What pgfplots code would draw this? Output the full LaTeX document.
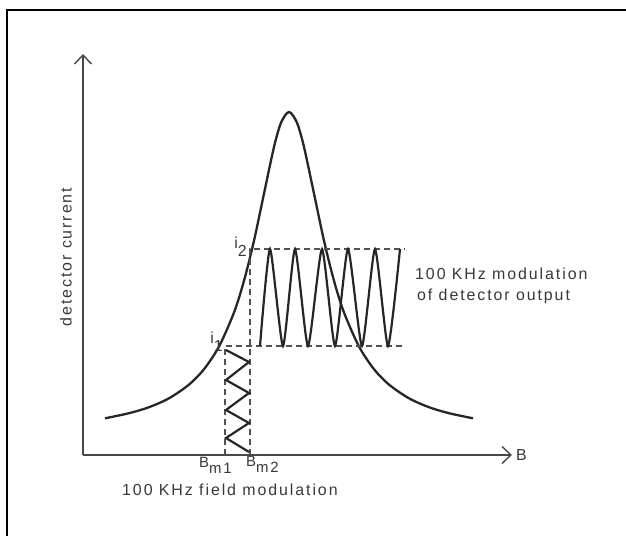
\documentclass[border=0pt]{standalone}
\usepackage{pgfplots}
\pgfplotsset{compat=1.18}
\usepackage{fontspec}
\setmainfont[LetterSpace=12]{Liberation Sans}
\usetikzlibrary{arrows.meta}
\definecolor{ink}{HTML}{262626}
\definecolor{txt}{HTML}{383838}
\begin{document}
\begin{tikzpicture}
\path[use as bounding box] (0,0) rectangle (626bp,536bp);
\begin{axis}[x=1bp,y=1bp,xmin=0,xmax=626,ymin=0,ymax=536,
  hide axis, clip=false, at={(0,0)}, anchor=south west,
  every axis plot/.append style={no marks}]
% frame (top and left edges)
\addplot[black, line width=2.8bp] coordinates {(7,0) (7,526) (626,526)};
% axes
\addplot[ink!85, line width=1.4bp, -{Straight Barb[length=9bp,width=17bp]}] coordinates {(83,81) (83,482)};
\addplot[ink!85, line width=1.4bp, -{Straight Barb[length=9bp,width=17bp]}] coordinates {(83,81) (512,81)};
% resonance curve
\addplot[ink, line width=2.3bp, smooth] coordinates {
(105,117.7) (129,122.8) (149,128.8) (169,137.7) (189,151.4) (204,166.8)
(219,189.5) (234,223.5) (244,255.2) (254,295.3) (264,342.4) (274,389.0)
(281,413.2) (289,424) (297,413.2) (304,389.0) (314,342.4) (324,295.3)
(334,255.2) (344,223.5) (359,189.5) (374,166.8) (389,151.4) (409,137.7)
(429,128.8) (449,122.8) (473,117.7)};
% dashed guide lines
\addplot[ink!80, line width=1.1bp, dash pattern=on 6bp off 4bp] coordinates {(225,81) (225,190) (405,190)};
\addplot[ink!80, line width=1.1bp, dash pattern=on 6bp off 4bp] coordinates {(250,81) (250,287) (405,287)};
% field modulation (triangle wave)
\addplot[ink, line width=2.2bp] coordinates {
(226,186) (249,174) (226,156) (249,143) (226,126) (249,113) (226,98) (249,84)};
% detector output modulation
\addplot[ink, line width=2.2bp, smooth, tension=0.35] coordinates {
(260,190) (270,287) (283,190) (295,287) (308,190) (322,287) (335,190)
(348,287) (362,190) (375,287) (388,190) (400,287)};
% labels
\node[txt, font=\fontsize{16}{18}\selectfont, rotate=90] at (66,279) {detector current};
\node[txt, font=\fontsize{16}{18}\selectfont, anchor=base east, inner sep=0pt] at (247,288) {i\raisebox{-8bp}{2}};
\node[txt, font=\fontsize{16}{18}\selectfont, anchor=base east, inner sep=0pt] at (223,193) {i\raisebox{-8bp}{1}};
\node[txt, font=\fontsize{15}{17}\selectfont, anchor=base west, inner sep=0pt] at (199,69) {B\raisebox{-6bp}{m1}};
\node[txt, font=\fontsize{15}{17}\selectfont, anchor=base west, inner sep=0pt] at (246,70) {B\raisebox{-6bp}{m2}};
\node[txt, font=\fontsize{16}{18}\selectfont, anchor=west, inner sep=0pt] at (516,81) {B};
\node[txt, font=\fontsize{16}{18}\selectfont, anchor=base west, inner sep=0pt] at (122,41) {100 KHz field modulation};
\node[txt, font=\fontsize{16}{18}\selectfont, anchor=base west, inner sep=0pt] at (415,257) {100 KHz modulation};
\node[txt, font=\fontsize{16}{18}\selectfont, anchor=base west, inner sep=0pt] at (417,236) {of detector output};
\end{axis}
\end{tikzpicture}
\end{document}
